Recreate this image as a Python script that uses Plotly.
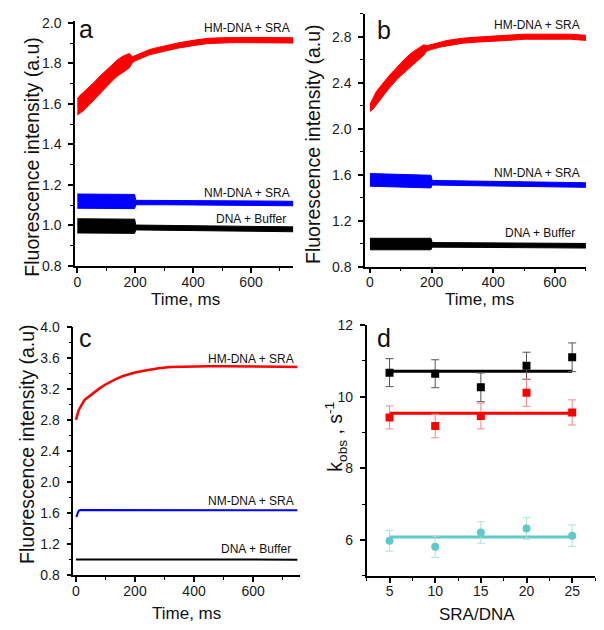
import plotly.graph_objects as go

W, H = 604, 630
FONT = "Liberation Sans, Arial, sans-serif"

# ---------------- Panel a (time traces, envelope of noisy signal) ----------------
ta_red = [0, 10, 20, 30, 40, 50, 60, 70, 80, 90, 100, 120, 140, 160, 180, 190, 200, 225, 250,
          275, 300, 350, 400, 450, 500, 550, 600, 650, 700, 745]
a_red_mid = [1.585, 1.598, 1.61, 1.623, 1.635, 1.649, 1.664, 1.68, 1.695, 1.71, 1.724, 1.752, 1.779,
             1.797, 1.813, 1.817, 1.825, 1.84, 1.855, 1.864, 1.872, 1.888, 1.90, 1.91, 1.913, 1.915,
             1.914, 1.914, 1.914, 1.913]
a_red_hw = [0.04, 0.045, 0.045, 0.045, 0.045, 0.045, 0.045, 0.045, 0.045, 0.045, 0.042, 0.04, 0.04,
            0.04, 0.035, 0.015, 0.013, 0.013, 0.013, 0.013, 0.013, 0.013, 0.013, 0.013, 0.013, 0.013,
            0.013, 0.013, 0.013, 0.013]

ta_flat = [0, 50, 100, 150, 198, 202, 300, 400, 500, 600, 700, 745]
a_blue_mid = [1.12, 1.12, 1.12, 1.118, 1.118, 1.113, 1.113, 1.112, 1.111, 1.11, 1.109, 1.108]
a_blue_hw = [0.035, 0.035, 0.035, 0.035, 0.035, 0.011, 0.011, 0.011, 0.011, 0.011, 0.011, 0.011]
a_blk_mid = [0.998, 0.998, 0.997, 0.997, 0.996, 0.99, 0.988, 0.986, 0.984, 0.983, 0.982, 0.981]
a_blk_hw = [0.035, 0.035, 0.035, 0.035, 0.035, 0.012, 0.012, 0.012, 0.012, 0.012, 0.012, 0.012]

# ---------------- Panel b ----------------
tb_red = [0, 10, 20, 30, 40, 50, 60, 70, 80, 90, 100, 120, 140, 160, 175, 185, 200, 225, 250, 275,
          300, 350, 400, 450, 500, 550, 600, 650, 700]
b_red_mid = [2.18, 2.22, 2.265, 2.30, 2.335, 2.365, 2.40, 2.43, 2.455, 2.49, 2.515, 2.57, 2.615,
             2.655, 2.685, 2.70, 2.71, 2.73, 2.745, 2.755, 2.765, 2.775, 2.785, 2.79, 2.80, 2.80,
             2.80, 2.80, 2.79]
b_red_hw = [0.03, 0.05, 0.055, 0.055, 0.055, 0.055, 0.055, 0.055, 0.055, 0.055, 0.055, 0.055, 0.055,
            0.05, 0.045, 0.022, 0.022, 0.022, 0.022, 0.022, 0.022, 0.022, 0.022, 0.022, 0.022, 0.022,
            0.022, 0.022, 0.022]

tb_flat = [0, 50, 100, 150, 198, 202, 300, 400, 500, 600, 700]
b_blue_mid = [1.555, 1.552, 1.548, 1.545, 1.54, 1.53, 1.527, 1.524, 1.52, 1.515, 1.51]
b_blue_hw = [0.055, 0.055, 0.055, 0.055, 0.055, 0.02, 0.02, 0.02, 0.02, 0.02, 0.02]
b_blk_mid = [0.997, 0.997, 0.997, 0.997, 0.997, 0.99, 0.99, 0.988, 0.986, 0.984, 0.982]
b_blk_hw = [0.05, 0.05, 0.05, 0.05, 0.05, 0.02, 0.02, 0.02, 0.02, 0.02, 0.02]

# ---------------- Panel c (smooth traces) ----------------
tc_red = [0, 2, 5, 10, 15, 20, 30, 40, 50, 60, 70, 80, 100, 120, 140, 160, 180, 200, 240, 280,
          320, 360, 400, 450, 500, 600, 700, 750]
c_red = [2.80, 2.82, 2.87, 2.93, 2.97, 3.00, 3.06, 3.09, 3.12, 3.155, 3.18, 3.205, 3.255, 3.30,
         3.335, 3.365, 3.39, 3.41, 3.44, 3.465, 3.48, 3.485, 3.49, 3.49, 3.49, 3.49, 3.485, 3.48]
tc_blue = [0, 3, 6, 10, 15, 30, 100, 200, 300, 400, 500, 600, 700, 750]
c_blue = [1.55, 1.56, 1.60, 1.63, 1.637, 1.637, 1.637, 1.636, 1.637, 1.637, 1.636, 1.636, 1.635,
          1.635]
tc_blk = [0, 100, 200, 300, 400, 500, 600, 700, 750]
c_blk = [1.0, 1.0, 1.0, 0.999, 0.999, 1.0, 0.999, 0.999, 0.998]

# ---------------- Panel d (kobs vs SRA/DNA) ----------------
sra_dna = [5, 10, 15, 20, 25]
k_black = [10.67, 10.64, 10.26, 10.86, 11.10]
k_black_err = [0.39, 0.39, 0.40, 0.38, 0.40]
k_red = [9.42, 9.18, 9.46, 10.11, 9.56]
k_red_err = [0.32, 0.33, 0.36, 0.38, 0.35]
k_cyan = [5.98, 5.81, 6.21, 6.32, 6.12]
k_cyan_err = [0.29, 0.30, 0.30, 0.30, 0.30]
fit_black = 10.71
fit_red = 9.54
fit_cyan = 6.08

curve_labels = ["HM-DNA + SRA", "NM-DNA + SRA", "DNA + Buffer"]

RED, BLUE, BLACK, CYAN = "#ff0000", "#0000ff", "#000000", "#5fcaca"

fig = go.Figure()


def band(t, mid, hw, color, xa, ya):
    up = [m + h for m, h in zip(mid, hw)]
    lo = [m - h for m, h in zip(mid, hw)]
    fig.add_trace(go.Scatter(x=list(t) + list(t)[::-1], y=up + lo[::-1], fill="toself",
                             fillcolor=color, mode="lines", line=dict(color=color, width=1),
                             xaxis=xa, yaxis=ya, showlegend=False, hoverinfo="skip"))


band(ta_red, a_red_mid, a_red_hw, RED, "x", "y")
band(ta_flat, a_blue_mid, a_blue_hw, BLUE, "x", "y")
band(ta_flat, a_blk_mid, a_blk_hw, BLACK, "x", "y")

band(tb_red, b_red_mid, b_red_hw, RED, "x2", "y2")
band(tb_flat, b_blue_mid, b_blue_hw, BLUE, "x2", "y2")
band(tb_flat, b_blk_mid, b_blk_hw, BLACK, "x2", "y2")

fig.add_trace(go.Scatter(x=tc_red, y=c_red, mode="lines", line=dict(color=RED, width=2.5),
                         xaxis="x3", yaxis="y3", showlegend=False))
fig.add_trace(go.Scatter(x=tc_blue, y=c_blue, mode="lines", line=dict(color=BLUE, width=2),
                         xaxis="x3", yaxis="y3", showlegend=False))
fig.add_trace(go.Scatter(x=tc_blk, y=c_blk, mode="lines", line=dict(color=BLACK, width=2),
                         xaxis="x3", yaxis="y3", showlegend=False))

for fit, col in [(fit_black, BLACK), (fit_red, RED), (fit_cyan, CYAN)]:
    fig.add_trace(go.Scatter(x=[sra_dna[0], sra_dna[-1]], y=[fit, fit], mode="lines",
                             line=dict(color=col, width=3), xaxis="x4", yaxis="y4",
                             showlegend=False))
for vals, errs, col, ecol, sym in [(k_black, k_black_err, BLACK, "#555555", "square"),
                                   (k_red, k_red_err, RED, "#f08a8a", "square"),
                                   (k_cyan, k_cyan_err, CYAN, "#a8e2e2", "circle")]:
    fig.add_trace(go.Scatter(x=sra_dna, y=vals, mode="markers",
                             marker=dict(color=col, size=8, symbol=sym),
                             error_y=dict(type="data", array=errs, color=ecol, thickness=1,
                                          width=4),
                             xaxis="x4", yaxis="y4", showlegend=False))


def px_x(p):
    return p / W


def px_y(p):
    return 1 - p / H


def axis(domain, rng, dtick, minor_dtick, anchor, fmt=None, tick0=None, standoff=None):
    d = dict(domain=domain, range=rng, dtick=dtick, anchor=anchor, showline=True,
             linecolor="black", linewidth=1.5, ticks="outside", ticklen=5, tickwidth=1.5,
             tickcolor="black", showgrid=False, zeroline=False, mirror=False,
             tickfont=dict(family=FONT, size=14, color="#1a1a1a"),
             minor=dict(dtick=minor_dtick, ticks="outside", ticklen=3, tickwidth=1.2,
                        tickcolor="black", showgrid=False))
    if fmt:
        d["tickformat"] = fmt
    if tick0 is not None:
        d["tick0"] = tick0
        d["minor"]["tick0"] = tick0
    if standoff is not None:
        d["ticklabelstandoff"] = standoff
    return d


fig.update_layout(
    width=W, height=H, autosize=False, paper_bgcolor="white", plot_bgcolor="white",
    margin=dict(l=0, r=0, t=0, b=0, pad=0, autoexpand=False),
    xaxis=axis([px_x(75), px_x(293.3)], [-8, 746], 200, 100, "y", None, None, -3),
    yaxis=axis([px_y(266), px_y(20.7)], [0.8, 2.01], 0.2, 0.1, "x", ".1f", 0.8, 4),
    xaxis2=axis([px_x(365), px_x(586)], [-16, 701], 200, 100, "y2", None, None, -3),
    yaxis2=axis([px_y(266.7), px_y(13.7)], [0.8, 3.0], 0.4, 0.2, "x2", ".1f", 0.8, 4),
    xaxis3=axis([px_x(73.3), px_x(300)], [-9, 759], 200, 100, "y3", None, None, -3),
    yaxis3=axis([px_y(575), px_y(326.7)], [0.8, 4.0], 0.4, 0.2, "x3", ".1f", 0.8, 4),
    xaxis4=axis([px_x(366.7), px_x(595)], [2.5, 27.5], 5, 2.5, "y4", None, 0, -3),
    yaxis4=axis([px_y(575.8), px_y(325)], [5, 12], 2, 1, "x4", None, 0, 4),
)

ann = []


def text(s, x, y, size, xanchor="center", yanchor="middle", angle=0):
    ann.append(dict(text=s, x=px_x(x), y=px_y(y), xref="paper", yref="paper", showarrow=False,
                    xanchor=xanchor, yanchor=yanchor, textangle=angle,
                    font=dict(family=FONT, size=size, color="#111111")))


# panel letters
text("a", 85.7, 29, 25)
text("b", 383.7, 29.5, 25)
text("c", 85.3, 338, 25)
text("d", 383.7, 338.3, 25)

# curve labels
for (lab, xr, yy) in zip(curve_labels, [291.7, 291.7, 288.3], [28, 192.7, 218.7]):
    text(lab, xr, yy, 12, xanchor="right")
for (lab, xr, yy) in zip(curve_labels, [581.7, 581.7, 576.7], [25, 173.3, 233.3]):
    text(lab, xr, yy, 12, xanchor="right")
for (lab, xr, yy) in zip(curve_labels, [296, 296, 293.3], [359.3, 500.7, 549.3]):
    text(lab, xr, yy, 12, xanchor="right")

# axis titles
text("Time, ms", 185, 299, 17)
text("Time, ms", 480, 299.5, 17)
text("Time, ms", 186, 613, 17)
text("SRA/DNA", 476.5, 614, 17)
text("Fluorescence intensity (a.u)", 32, 156.7, 19.5, angle=-90)
text("Fluorescence intensity (a.u)", 313, 144, 19.5, angle=-90)
text("Fluorescence intensity (a.u)", 27, 444, 19.5, angle=-90)
text("k<sub>obs</sub> , s<sup>-1</sup>", 336, 436.7, 19.5, angle=-90)

fig.update_layout(annotations=ann)

fig.write_html("out.html", config={"displayModeBar": False},
               post_script="document.body.style.margin='0';"
                           "document.body.style.overflow='hidden';")
